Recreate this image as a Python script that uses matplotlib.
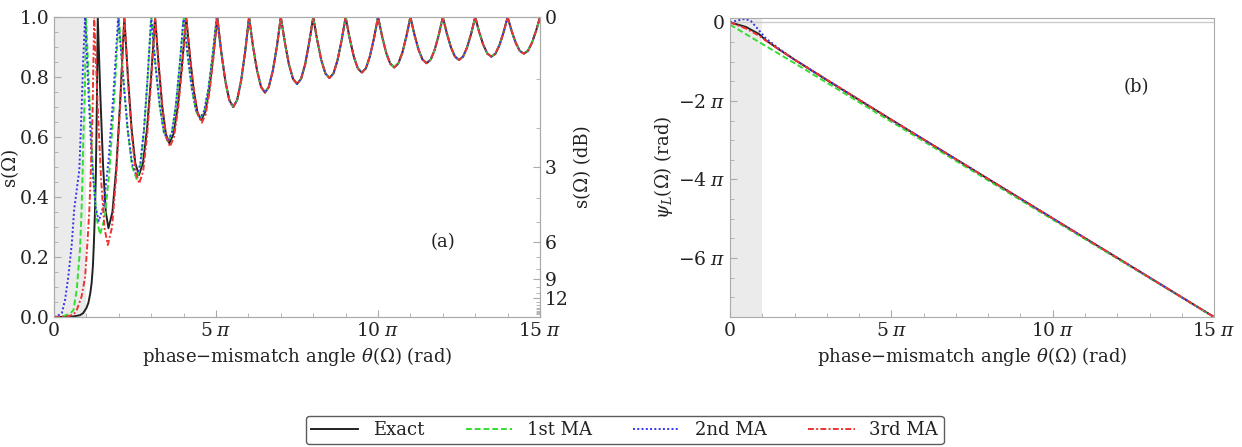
import numpy as np
import matplotlib
matplotlib.use('Agg')
import matplotlib.pyplot as plt
from matplotlib.ticker import MultipleLocator, FixedLocator

# theta values are in units of pi
# exact curve, low theta part
exact_theta = [0, 0.3, 0.6, 0.8, 0.9, 1.0, 1.06, 1.12, 1.16, 1.2, 1.23, 1.26, 1.29, 1.32, 1.35,
               1.4325, 1.515, 1.5975, 1.68, 1.8025, 1.925, 2.0475, 2.17,
               2.2825, 2.395, 2.5075, 2.62, 2.745, 2.87, 2.995, 3.12,
               3.23, 3.34, 3.45, 3.56, 3.69, 3.82, 3.95, 4.08,
               4.195, 4.31, 4.425, 4.54, 4.665, 4.79, 4.915, 5.04]
exact_s = [0, 0.0005, 0.002, 0.006, 0.013, 0.03, 0.047, 0.08, 0.113, 0.17, 0.246, 0.34, 0.47, 0.69, 1.0,
           0.730, 0.502, 0.350, 0.296, 0.350, 0.502, 0.730, 1.0,
           0.798, 0.627, 0.513, 0.473, 0.513, 0.627, 0.798, 1.0,
           0.839, 0.702, 0.611, 0.579, 0.611, 0.702, 0.839, 1.0,
           0.869, 0.757, 0.683, 0.657, 0.683, 0.757, 0.869, 1.0]

ma1_theta = [0, 0.3, 0.5, 0.6, 0.7, 0.75, 0.8, 0.85, 0.88, 0.9, 0.95, 0.99,
             1.0975, 1.205, 1.3125, 1.42, 1.565, 1.71, 1.855, 2.0,
             2.1375, 2.275, 2.4125, 2.55, 2.6625, 2.775, 2.8875, 3.0,
             3.13, 3.26, 3.39, 3.52, 3.64, 3.76, 3.88, 4.0,
             4.1275, 4.255, 4.3825, 4.51, 4.6375, 4.765, 4.8925, 5.02]
ma1_s = [0, 0.003, 0.012, 0.023, 0.09, 0.157, 0.223, 0.357, 0.47, 0.58, 0.75, 1.0,
         0.722, 0.487, 0.330, 0.275, 0.330, 0.487, 0.722, 1.0,
         0.793, 0.618, 0.501, 0.46, 0.501, 0.618, 0.793, 1.0,
         0.840, 0.705, 0.615, 0.583, 0.615, 0.705, 0.840, 1.0,
         0.870, 0.760, 0.686, 0.66, 0.686, 0.760, 0.870, 1.0]

ma2_theta = [0, 0.1, 0.24, 0.34, 0.44, 0.55, 0.62, 0.7, 0.78, 0.85, 0.9, 0.96,
             1.065, 1.17, 1.275, 1.38, 1.53, 1.68, 1.83, 1.98,
             2.1375, 2.275, 2.4125, 2.55, 2.6625, 2.775, 2.8875, 3.0,
             3.13, 3.26, 3.39, 3.52, 3.64, 3.76, 3.88, 4.0,
             4.1275, 4.255, 4.3825, 4.51, 4.6375, 4.765, 4.8925, 5.02]
ma2_s = [0, 0.003, 0.013, 0.057, 0.134, 0.246, 0.357, 0.423, 0.49, 0.69, 0.857, 1.0,
         0.740, 0.519, 0.372, 0.32, 0.372, 0.519, 0.740, 1.0,
         0.797, 0.625, 0.510, 0.47, 0.510, 0.625, 0.797, 1.0,
         0.841, 0.707, 0.617, 0.585, 0.617, 0.707, 0.841, 1.0,
         0.871, 0.761, 0.688, 0.662, 0.688, 0.761, 0.871, 1.0]

ma3_theta = [0, 0.4, 0.6, 0.7, 0.85, 0.96, 1.03, 1.09, 1.13, 1.19, 1.24,
             1.345, 1.45, 1.555, 1.66, 1.7875, 1.915, 2.0425, 2.17,
             2.285, 2.40, 2.515, 2.63, 2.7525, 2.875, 2.9975, 3.12,
             3.235, 3.35, 3.465, 3.58, 3.705, 3.83, 3.955, 4.08,
             4.2, 4.32, 4.44, 4.56, 4.68, 4.80, 4.92, 5.04]
ma3_s = [0, 0.002, 0.008, 0.023, 0.068, 0.134, 0.246, 0.357, 0.468, 0.69, 1.0,
         0.709, 0.463, 0.298, 0.24, 0.298, 0.463, 0.709, 1.0,
         0.787, 0.608, 0.487, 0.445, 0.487, 0.608, 0.787, 1.0,
         0.835, 0.695, 0.601, 0.568, 0.601, 0.695, 0.835, 1.0,
         0.865, 0.751, 0.675, 0.648, 0.675, 0.751, 0.865, 1.0]

# above ~5 pi all four curves lie on top of each other
tail_theta = [5.16, 5.285, 5.41, 5.53, 5.65, 5.775, 5.90, 6.02,
              6.14, 6.265, 6.39, 6.51, 6.63, 6.755, 6.88, 7.0,
              7.125, 7.25, 7.375, 7.5, 7.625, 7.75, 7.875, 8.0,
              8.125, 8.25, 8.375, 8.5, 8.625, 8.75, 8.875, 9.0,
              9.125, 9.25, 9.375, 9.5, 9.625, 9.75, 9.875, 10.0,
              10.125, 10.25, 10.375, 10.5, 10.625, 10.75, 10.875, 11.0,
              11.125, 11.25, 11.375, 11.5, 11.625, 11.75, 11.875, 12.0,
              12.125, 12.25, 12.375, 12.5, 12.625, 12.75, 12.875, 13.0,
              13.125, 13.25, 13.375, 13.5, 13.625, 13.75, 13.875, 14.0,
              14.125, 14.25, 14.375, 14.5, 14.625, 14.75, 14.875, 15.0]
tail_s = [0.885, 0.788, 0.723, 0.70, 0.723, 0.788, 0.885, 1.0,
          0.903, 0.822, 0.767, 0.748, 0.767, 0.822, 0.903, 1.0,
          0.915, 0.842, 0.794, 0.777, 0.794, 0.842, 0.915, 1.0,
          0.922, 0.856, 0.812, 0.797, 0.812, 0.856, 0.922, 1.0,
          0.929, 0.869, 0.829, 0.815, 0.829, 0.869, 0.929, 1.0,
          0.936, 0.881, 0.845, 0.832, 0.845, 0.881, 0.936, 1.0,
          0.941, 0.891, 0.858, 0.846, 0.858, 0.891, 0.941, 1.0,
          0.945, 0.899, 0.868, 0.857, 0.868, 0.899, 0.945, 1.0,
          0.949, 0.907, 0.878, 0.868, 0.878, 0.907, 0.949, 1.0,
          0.953, 0.914, 0.887, 0.878, 0.887, 0.914, 0.953, 1.0]

# phase psi_L (units of pi)
psi_exact_theta = [0, 0.5, 0.9, 1.1, 1.5, 2.0, 3.0, 5.0, 10.0, 15.0]
psi_exact = [0, -0.12, -0.3, -0.45, -0.68, -0.95, -1.47, -2.48, -4.99, -7.5]
psi_ma1_theta = [0, 1.0, 2.0, 5.0, 10.0, 15.0]
psi_ma1 = [-0.06, -0.55, -1.04, -2.53, -5.02, -7.5]
psi_ma2_theta = [0, 0.25, 0.47, 0.65, 0.83, 1.1, 1.5, 2.0, 5.0, 15.0]
psi_ma2 = [0, 0.05, 0.09, 0.03, -0.14, -0.4, -0.66, -0.95, -2.48, -7.5]
psi_ma3_theta = [0, 0.5, 0.9, 1.1, 1.5, 2.0, 5.0, 15.0]
psi_ma3 = [0, -0.16, -0.34, -0.46, -0.68, -0.95, -2.48, -7.5]

labels = ['Exact', '1st MA', '2nd MA', '3rd MA']
colors = ['#222222', '#33dd33', '#3333ee', '#ee3333']
styles = ['-', (0, (3, 1.5)), (0, (1, 1.2)), (0, (3, 1.2, 1, 1.2))]
shade_end = 0.98

plt.rcParams['font.family'] = ['DejaVu Serif']
plt.rcParams['mathtext.fontset'] = 'dejavuserif'
frame_col = '#aaaaaa'
text_col = '#222222'
pi_ticks = ['0', r'$5\;\pi$', r'$10\;\pi$', r'$15\;\pi$']


def style_axes(ax):
    for sp in ax.spines.values():
        sp.set_color(frame_col)
    ax.tick_params(which='both', direction='in', colors=frame_col, labelcolor=text_col, labelsize=13.5)
    ax.tick_params(which='major', length=5)
    ax.tick_params(which='minor', length=3)


fig = plt.figure(figsize=(12.42, 4.47), dpi=100)
ax1 = fig.add_axes([0.0435, 0.2908, 0.3913, 0.6711])
ax2 = fig.add_axes([0.5878, 0.2908, 0.3897, 0.6689])

# ---- panel (a)
ax1.axvspan(0, shade_end, color='#ebebeb', lw=0)
curves = [(exact_theta, exact_s), (ma1_theta, ma1_s), (ma2_theta, ma2_s), (ma3_theta, ma3_s)]
handles = []
for (th, s), lab, c, ls in zip(curves, labels, colors, styles):
    h, = ax1.plot(th + tail_theta, s + tail_s, color=c, ls=ls, lw=1.4, label=lab)
    handles.append(h)
ax1.set_xlim(0, 15)
ax1.set_ylim(0, 1)
ax1.set_xticks([0, 5, 10, 15])
ax1.set_xticklabels(pi_ticks)
ax1.xaxis.set_minor_locator(MultipleLocator(1))
ax1.set_yticks([0, 0.2, 0.4, 0.6, 0.8, 1.0])
ax1.set_yticklabels(['0.0', '0.2', '0.4', '0.6', '0.8', '1.0'])
ax1.yaxis.set_minor_locator(MultipleLocator(0.05))
style_axes(ax1)
ax1.set_xlabel(r'phase$-$mismatch angle $\theta(\Omega)$ (rad)', fontsize=13, color=text_col, labelpad=4)
ax1.set_ylabel('s(Ω)', fontsize=13, color=text_col, labelpad=0)
ax1.text(0.80, 0.25, '(a)', transform=ax1.transAxes, fontsize=13, color=text_col, ha='center', va='center')

axdb = ax1.twinx()
axdb.set_ylim(0, 1)
db_major = [0, 3, 6, 9, 12]
db_minor = [1, 2, 4, 5, 7, 8, 10, 11, 13, 14, 15, 16, 17, 18, 19, 20]
axdb.yaxis.set_major_locator(FixedLocator([10 ** (-d / 10) for d in db_major]))
axdb.set_yticklabels([str(d) for d in db_major])
axdb.yaxis.set_minor_locator(FixedLocator([10 ** (-d / 10) for d in db_minor]))
style_axes(axdb)
axdb.set_ylabel('s(Ω) (dB)', fontsize=13, color=text_col, labelpad=4)

# ---- panel (b)
ax2.axvspan(0, shade_end, color='#ebebeb', lw=0)
ax2.axhline(0, color='#cccccc', lw=1)
psi_curves = [(psi_exact_theta, psi_exact), (psi_ma1_theta, psi_ma1),
              (psi_ma2_theta, psi_ma2), (psi_ma3_theta, psi_ma3)]
for (th, p), c, ls in zip(psi_curves, colors, styles):
    ax2.plot(th, p, color=c, ls=ls, lw=1.4)
ax2.set_xlim(0, 15)
ax2.set_ylim(-7.5, 0.11)
ax2.set_xticks([0, 5, 10, 15])
ax2.set_xticklabels(pi_ticks)
ax2.xaxis.set_minor_locator(MultipleLocator(1))
ax2.set_yticks([0, -2, -4, -6])
ax2.set_yticklabels(['0', r'$-2\;\pi$', r'$-4\;\pi$', r'$-6\;\pi$'])
ax2.yaxis.set_minor_locator(MultipleLocator(0.5))
style_axes(ax2)
ax2.set_xlabel(r'phase$-$mismatch angle $\theta(\Omega)$ (rad)', fontsize=13, color=text_col, labelpad=4)
ax2.set_ylabel(r'$\psi_L(\Omega)$ (rad)', fontsize=13, color=text_col, labelpad=2)
ax2.text(0.84, 0.77, '(b)', transform=ax2.transAxes, fontsize=13, color=text_col, ha='center', va='center')

leg = fig.legend(handles, labels, loc='center', bbox_to_anchor=(0.503, 0.038), ncol=4,
                 fontsize=13, frameon=True, fancybox=True, edgecolor='#333333',
                 handlelength=2.6, columnspacing=2.3, borderpad=0.3)
leg.get_frame().set_linewidth(1.0)
for t in leg.get_texts():
    t.set_color(text_col)

plt.savefig('out.png', dpi=100)
plt.close()
